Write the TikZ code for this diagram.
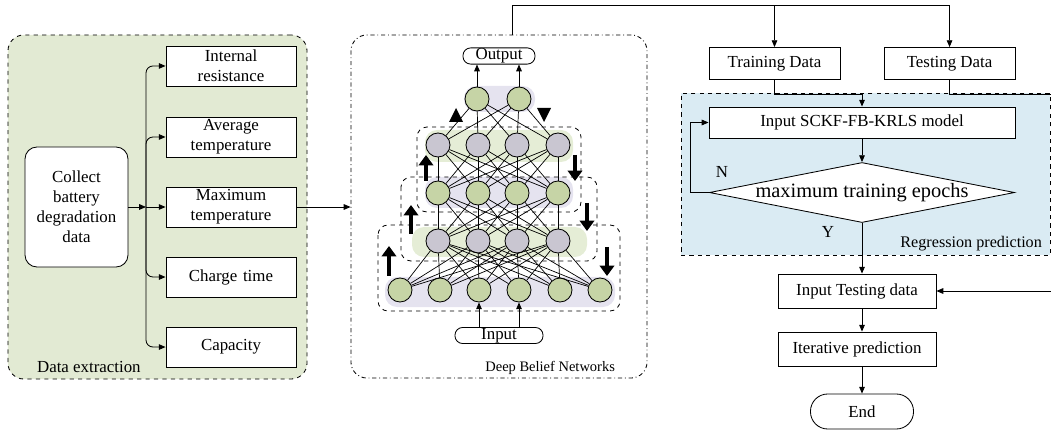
\documentclass[tikz,border=0pt]{standalone}
\usepackage{fontspec}
\setmainfont{Liberation Serif}
\usetikzlibrary{arrows.meta,shapes.geometric,positioning}
\definecolor{ExtractGreen}{RGB}{226,234,211}
\definecolor{NeuronGreen}{RGB}{198,212,166}
\definecolor{NeuronGray}{RGB}{201,198,209}
\definecolor{LayerLilac}{RGB}{229,227,239}
\definecolor{LayerGreen}{RGB}{229,237,214}
\definecolor{RegressBlue}{RGB}{218,235,243}

\begin{document}
\begin{tikzpicture}[x=0.025cm,y=0.025cm,line width=0.6pt,font=\fontsize{12}{14.2}\selectfont]
\tikzstyle{block} = [rectangle, draw, fill=white, text width=3cm, align=center,
    minimum width=3.25cm, minimum height=1cm, inner sep=1pt]
\tikzstyle{fbox} = [rectangle, draw, fill=white, minimum height=0.8cm, inner sep=2pt]
\tikzstyle{terminal} = [rectangle, draw, fill=white, rounded corners=0.19cm,
    inner sep=0.5pt, minimum height=0.375cm]
\tikzstyle{decision} = [diamond, draw, fill=white, minimum width=7.625cm,
    minimum height=1.5cm, inner sep=0pt]
\tikzstyle{neuron} = [circle, draw, minimum size=0.6cm, inner sep=0pt]
\tikzstyle{layerbg} = [rounded corners=0.3cm]
\tikzstyle{rbm} = [draw, dashed, rounded corners=0.25cm]
\tikzstyle{line} = [draw, -{Triangle[length=1.7mm,width=1.4mm]}]
\tikzstyle{flow} = [line width=2.5pt, -{Triangle[length=2.6mm,width=3.6mm]}]
\useasboundingbox (0,0) rectangle (1051,-432);
\clip (0,0) rectangle (1051,-432);

% data extraction
\node [draw, dashed, fill=ExtractGreen, rounded corners=0.4cm,
    minimum width=7.475cm, minimum height=8.6cm] (extract) at (157.5,-207) {};
\node [anchor=base west] (extractlabel) at (32,-372) {Data extraction};
\node [block, rounded corners=0.3cm, text width=2.45cm, minimum width=2.575cm,
    minimum height=3cm] (collect) at (76.5,-207) {Collect\\battery\\degradation\\data};
\node [block] (maxtemp) at (231,-207) {Maximum\\temperature};
\node [block, above of=maxtemp, node distance=1.75cm] (avgtemp) {Average\\temperature};
\node [block, above of=avgtemp, node distance=1.775cm] (resist) {Internal\\resistance};
\node [block, below of=maxtemp, node distance=1.75cm] (charge) {Charge time};
\node [block, below of=charge, node distance=1.75cm] (capacity) {Capacity};
\coordinate (split) at (146,-207);
\path [line] (collect) -- (split);
\path [line, rounded corners=5] (split) |- (resist);
\path [line, rounded corners=5] (split) |- (avgtemp);
\path [line] (split) -- (maxtemp);
\path [line, rounded corners=5] (split) |- (charge);
\path [line, rounded corners=5] (split) |- (capacity);
%
% deep belief network
\node [draw, dash dot, rounded corners=0.4cm, minimum width=7.4cm,
    minimum height=8.575cm] (dbn) at (499,-206.5) {};
\node [anchor=base east, font=\fontsize{10.3}{12}\selectfont] (dbnlabel) at (620,-371) {Deep Belief Networks};
\path [line] (maxtemp) -- (maxtemp -| dbn.west);
\fill [layerbg, LayerLilac] (464,-86) rectangle (535,-112);
\fill [layerbg, LayerGreen] (425,-130) rectangle (573,-162);
\fill [layerbg, LayerLilac] (425,-177) rectangle (573,-208);
\fill [layerbg, LayerGreen] (412,-227) rectangle (587,-257);
\fill [layerbg, LayerLilac] (385,-277) rectangle (615,-307);
\draw [rbm] (417,-127) rectangle (581,-212);
\draw [rbm] (401,-177) rectangle (597,-261);
\draw [rbm] (378,-225) rectangle (620,-311);
\foreach \x [count=\i] in {477,519}
    \node [neuron, fill=NeuronGreen] (a\i) at (\x,-99) {};
\foreach \x [count=\i] in {438,478,517,558} {
    \node [neuron, fill=NeuronGray] (b\i) at (\x,-145) {};
    \node [neuron, fill=NeuronGreen] (c\i) at (\x,-193) {};
    \node [neuron, fill=NeuronGray] (d\i) at (\x,-241) {};
}
\foreach \x [count=\i] in {400,440,479,519,560,600}
    \node [neuron, fill=NeuronGreen] (e\i) at (\x,-290) {};
\foreach \i in {1,2}
    \foreach \j in {1,...,4} \draw [line width=0.5pt] (a\i) -- (b\j);
\foreach \i in {1,...,4}
    \foreach \j in {1,...,4} {
        \draw [line width=0.5pt] (b\i) -- (c\j);
        \draw [line width=0.5pt] (c\i) -- (d\j);
    }
\foreach \i in {1,...,4}
    \foreach \j in {1,...,6} \draw [line width=0.5pt] (d\i) -- (e\j);
\node [terminal, minimum width=1.8cm] (output) at (499,-56) {Output};
\node [terminal, minimum width=2.2cm] (input) at (499,-335.5) {Input};
\foreach \i in {1,2} \path [line] (a\i) -- (a\i |- output.south);
\foreach \i in {3,4} \path [line] (input.north -| e\i) -- (e\i);
\draw [flow] (426,-181) -- (426,-155);
\draw [flow] (575,-155) -- (575,-181);
\draw [flow] (411,-234) -- (411,-205);
\draw [flow] (587,-203) -- (587,-231);
\draw [flow] (389,-276) -- (389,-246);
\draw [flow] (607,-247) -- (607,-276);
\fill (449,-122) -- (463,-122) -- (456,-108) -- cycle;
\fill (537,-108) -- (551,-108) -- (544,-122) -- cycle;
%
% regression prediction
\node [draw, dashed, fill=RegressBlue, minimum width=9.225cm, minimum height=4.05cm] (regress) at (865.5,-174) {};
\node [anchor=base east, font=\fontsize{11.5}{13}\selectfont] (regresslabel) at (1047,-247) {Regression prediction};
\node [fbox, minimum width=3.275cm] (train) at (774.5,-63.5) {Training Data};
\node [fbox, minimum width=3.275cm, right of=train, node distance=4.375cm] (test) {Testing Data};
\node [fbox, minimum width=7.65cm, minimum height=0.775cm] (sckf) at (862,-122.5) {Input SCKF-FB-KRLS model};
\node [decision, below of=sckf, node distance=1.75cm] (epoch) {};
\node [font=\fontsize{14.5}{17}\selectfont] (epochtext) at (epoch) {maximum training epochs};
\node (nlabel) at (722,-172) {N};
\node (ylabel) at (828,-232) {Y};
\node [fbox, minimum width=3.95cm, minimum height=0.85cm] (intest) at (857,-291) {Input Testing data};
\node [fbox, minimum width=3.95cm, minimum height=0.85cm, below of=intest, node distance=1.45cm] (iter) {Iterative prediction};
\node [terminal, rounded corners=0.43cm, minimum width=2.575cm, minimum height=0.875cm] (end) at (862,-411.5) {End};
%
\coordinate (tap) at (512,-5);
\path [line] (tap |- dbn.north) -- (tap) -| (train);
\path [line] (tap) -| (test);
\coordinate (trainbend) at (862,-94);
\path [line] (train.south) |- (trainbend) -- (sckf.north);
\coordinate (testbend) at (1060,-94);
\path [line] (test.south) |- (testbend) |- (intest.east);
\path [line] (sckf) -- (epoch);
\path [line] (epoch.west) -- ++(-19,0) |- (sckf.west);
\path [line] (epoch.south) -- (epoch.south |- intest.north);
\path [line] (intest.south -| epoch.south) -- (iter.north -| epoch.south);
\path [line] (iter.south -| end) -- (end);
\end{tikzpicture}
\end{document}
